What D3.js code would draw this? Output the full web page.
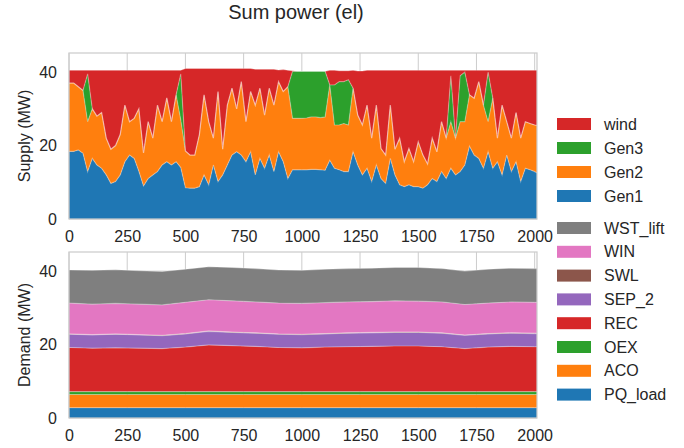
<!DOCTYPE html>
<html>
<head>
<meta charset="utf-8">
<script src="https://cdn.jsdelivr.net/npm/d3@7"></script>
<style>
body { margin: 0; background: #fff; }
text { font-family: "Liberation Sans", Arial, sans-serif; fill: #262626; }
</style>
</head>
<body>
<script>
// time steps of the samples
const supplySteps = d3.range(0, 2001, 20).concat([2010])
const demandSteps = d3.range(0, 2001, 100).concat([2010])

const xTicks = [0, 250, 500, 750, 1000, 1250, 1500, 1750, 2000]
const yTicks = [0, 20, 40]

// supply (MW), one value every 20 steps
const gen1 = [18.4,18.4,18.8,17.9,12.9,16.5,14.7,13.8,12,9.7,10.2,12,15.6,17.4,16.5,13,9,11,12,12.9,
  14.7,15.6,14.7,15.6,14,8.5,8.4,8.4,8.8,12,9.3,14.7,10.2,12,14.7,17.4,18.3,17.4,15.6,18.3,
  12,16.5,13.8,17.4,12.9,18.3,15.6,11,13.4,13.4,13.4,13.4,13.5,13.5,13.4,13.3,16,13.8,13.4,12.9,
  12.9,18.3,14.7,12,13.8,10.2,14.7,11,9.7,16.5,12,9.3,8.8,9.3,8.8,8.8,8.4,9.3,11,10.2,
  12.9,11,13.8,12,12.9,14.7,19.8,17.4,16.5,13.8,18.3,13.8,15.6,12,17.4,12.9,15.6,10.2,13.8,13.4,
  12.9,12.5]
const gen2 = [18.6,18.6,17.2,17.1,13.6,13.5,13.3,15.2,10,9.3,9.8,11,15.4,9.1,10.9,17,9,15.5,10,18.1,
  11.8,17.4,11.8,18.2,13,10,9,9,14.2,21.8,17.2,7.3,24.5,7,16.3,18.2,11.7,20,10.9,16.4,
  19,19.1,14.5,18.2,18.1,19.1,19.1,25,14,14,14,14.1,14.3,14.3,14.2,14.5,20.5,11.8,12.2,13.1,
  12.7,17.3,13.6,13.6,17.2,11.8,16.3,8.2,7.7,14.5,7,12.7,6.8,9.9,6.8,12.2,9,5.7,11,8.1,
  13.6,11,12.7,10,13.6,11.8,14,15.5,20.9,17.2,8.2,19.1,6.4,19,9.1,9.1,13.4,11.8,12.7,12.6,
  12.7,13]
const gen3 = [0,0,0,0,13,0,0,0,0,0,0,0,0,0,0,0,0,0,0,0,
  0,0,0,0,12.5,0,0,0,0,0,0,0,0,0,0,0,0,0,0,0,
  0,0,0,0,0,0,0,0,12.8,12.8,12.8,12.7,12.4,12.4,12.6,12.4,0,10.9,11.8,11.4,
  12.3,0,0,0,0,0,0,0,0,0,0,0,0,0,0,0,0,0,0,0,
  0,0,12.5,0,12.5,13.5,0,0,0,0,13.5,0,0,0,0,0,0,0,0,0,
  0,0]
const wind = [3.5,3.5,4.5,5.5,1,10.5,12.5,11.5,18.5,21.5,20.5,17.5,9.5,14,13.1,10.5,22.5,14,18.5,9.5,
  14,7.5,14,6.7,1,22.5,23.6,23.6,18,7.2,14.5,19,6.3,22,10,5.4,11,3.6,14.5,6.3,
  9.8,5.2,12.5,5.2,9.8,3.2,6,4.5,0.2,0,0,0,0,0,0,0,4,4,3,3,
  2.5,4.9,12,14.7,9.5,18.5,9.5,21.3,23.1,9.5,21.5,18.5,24.9,21.3,24.9,19.5,23.1,25.5,18.5,22.2,
  14,18.5,1.5,18.5,1.5,0.5,6.7,7.6,3.1,9.5,0.5,7.6,18.5,9.5,14,18.5,11.5,18.5,14,14.5,
  14.9,15]

// demand (MW), one value every 100 steps
const pqLoad = [2.8,2.8,2.8,2.8,2.8,2.8,2.8,2.8,2.8,2.8,2.8,2.8,2.8,2.8,2.8,2.8,2.8,2.8,2.8,2.8,2.8,2.8]
const aco = [3.6,3.6,3.6,3.6,3.6,3.6,3.6,3.6,3.6,3.6,3.6,3.6,3.6,3.6,3.6,3.6,3.6,3.6,3.6,3.6,3.6,3.6]
const oex = [0.8,0.8,0.8,0.8,0.8,0.8,0.8,0.8,0.8,0.8,0.8,0.8,0.8,0.8,0.8,0.8,0.8,0.8,0.8,0.8,0.8,0.8]
const rec = [12,11.8,11.9,11.8,11.7,12.1,12.7,12.5,12.3,12,11.9,12.1,12.2,12.3,12.4,12.4,12.2,11.7,12.1,12.3,12.2,12.2]
const sep2 = [3.6,3.6,3.7,3.6,3.5,3.6,3.7,3.6,3.6,3.6,3.6,3.6,3.7,3.7,3.7,3.7,3.7,3.6,3.6,3.6,3.6,3.6]
const swl = [0.1,0.1,0.1,0.1,0.1,0.1,0.1,0.1,0.1,0.1,0.1,0.1,0.1,0.1,0.1,0.1,0.1,0.1,0.1,0.1,0.1,0.1]
const win = [8.4,8.3,8.3,8.3,8.3,8.5,8.5,8.5,8.4,8.4,8.4,8.4,8.4,8.4,8.5,8.4,8.4,8.3,8.3,8.4,8.4,8.4]
const wstLift = [9,9.2,9.2,9.1,9.1,9,9,9.1,9.1,9,9,9.1,9.1,9.1,9.1,9.2,9.1,9.1,9.2,9.2,9.2,9.2]

const supplyKeys = ["Gen1", "Gen2", "Gen3", "wind"]
const supplyColors = ["#1f77b4", "#ff7f0e", "#2ca02c", "#d62728"]
const demandKeys = ["PQ_load", "ACO", "OEX", "REC", "SEP_2", "SWL", "WIN", "WST_lift"]
const demandColors = ["#1f77b4", "#ff7f0e", "#2ca02c", "#d62728", "#9467bd", "#8c564b", "#e377c2", "#7f7f7f"]

var svg = d3.select("body").append("svg")
  .attr("width", 684)
  .attr("height", 448)

svg.append("text")
  .attr("x", 296).attr("y", 19)
  .attr("text-anchor", "middle")
  .style("font-size", "20px")
  .text("Sum power (el)")

var x = d3.scaleLinear().domain([0, 2010]).range([69, 537])

function drawPanel(top, keys, colors, series, steps, label) {
  let h = 166
  let y = d3.scaleLinear().domain([0, 45.2]).range([top + h, top])
  let g = svg.append("g")

  // grid
  xTicks.forEach(t => {
    g.append("line").attr("x1", x(t)).attr("x2", x(t)).attr("y1", top).attr("y2", top + h)
      .style("stroke", "#cccccc")
  })
  yTicks.forEach(t => {
    g.append("line").attr("x1", 69).attr("x2", 537).attr("y1", y(t)).attr("y2", y(t))
      .style("stroke", "#cccccc")
  })

  let rows = steps.map((s, i) => {
    let r = {t: s}
    keys.forEach((k, j) => r[k] = series[j][i])
    return r
  })
  let stacked = d3.stack().keys(keys)(rows)

  let area = d3.area()
    .x(d => x(d.data.t))
    .y0(d => y(d[0]))
    .y1(d => y(d[1]))
  let edge = d3.line()
    .x(d => x(d.data.t))
    .y(d => y(d[1]))

  stacked.forEach((s, i) => {
    g.append("path").attr("d", area(s)).style("fill", colors[i])
  })
  // light fringe on each boundary
  stacked.forEach((s, i) => {
    g.append("path").attr("d", edge(s))
      .style("fill", "none").style("stroke", "#ffffff")
      .style("stroke-opacity", 0.3).style("stroke-width", 1.2)
  })

  g.append("rect").attr("x", 69).attr("y", top).attr("width", 468).attr("height", h)
    .style("fill", "none").style("stroke", "#cccccc").style("stroke-width", 1.25)

  let xa = g.append("g").attr("transform", "translate(0," + (top + h) + ")")
    .call(d3.axisBottom(x).tickValues(xTicks).tickFormat(d3.format("d")).tickSize(0).tickPadding(12))
  let ya = g.append("g").attr("transform", "translate(69,0)")
    .call(d3.axisLeft(y).tickValues(yTicks).tickFormat(d3.format("d")).tickSize(0).tickPadding(12))
  ;[xa, ya].forEach(a => {
    a.select(".domain").remove()
    a.attr("font-family", null).attr("font-size", null)
    a.selectAll("text").style("font-size", "16px").style("fill", "#262626")
  })

  g.append("text")
    .attr("transform", "translate(24," + (top + h / 2) + ") rotate(-90)")
    .attr("text-anchor", "middle")
    .attr("dy", "0.35em")
    .style("font-size", "16px")
    .text(label)
}

drawPanel(53, supplyKeys, supplyColors, [gen1, gen2, gen3, wind], supplySteps, "Supply (MW)")
drawPanel(252, demandKeys, demandColors, [pqLoad, aco, oex, rec, sep2, swl, win, wstLift], demandSteps, "Demand (MW)")

// legend, top of stack first
let legendItems = []
for (let i = supplyKeys.length - 1; i >= 0; i--) legendItems.push([supplyKeys[i], supplyColors[i], 124 + (3 - i) * 24])
for (let i = demandKeys.length - 1; i >= 0; i--) legendItems.push([demandKeys[i], demandColors[i], 228 + (7 - i) * 23.8])

legendItems.forEach(d => {
  svg.append("rect").attr("x", 557).attr("y", d[2] - 6).attr("width", 34).attr("height", 12)
    .style("fill", d[1])
  svg.append("text").attr("x", 604).attr("y", d[2]).attr("dy", "0.35em")
    .style("font-size", "16px")
    .text(d[0])
})
</script>
</body>
</html>
